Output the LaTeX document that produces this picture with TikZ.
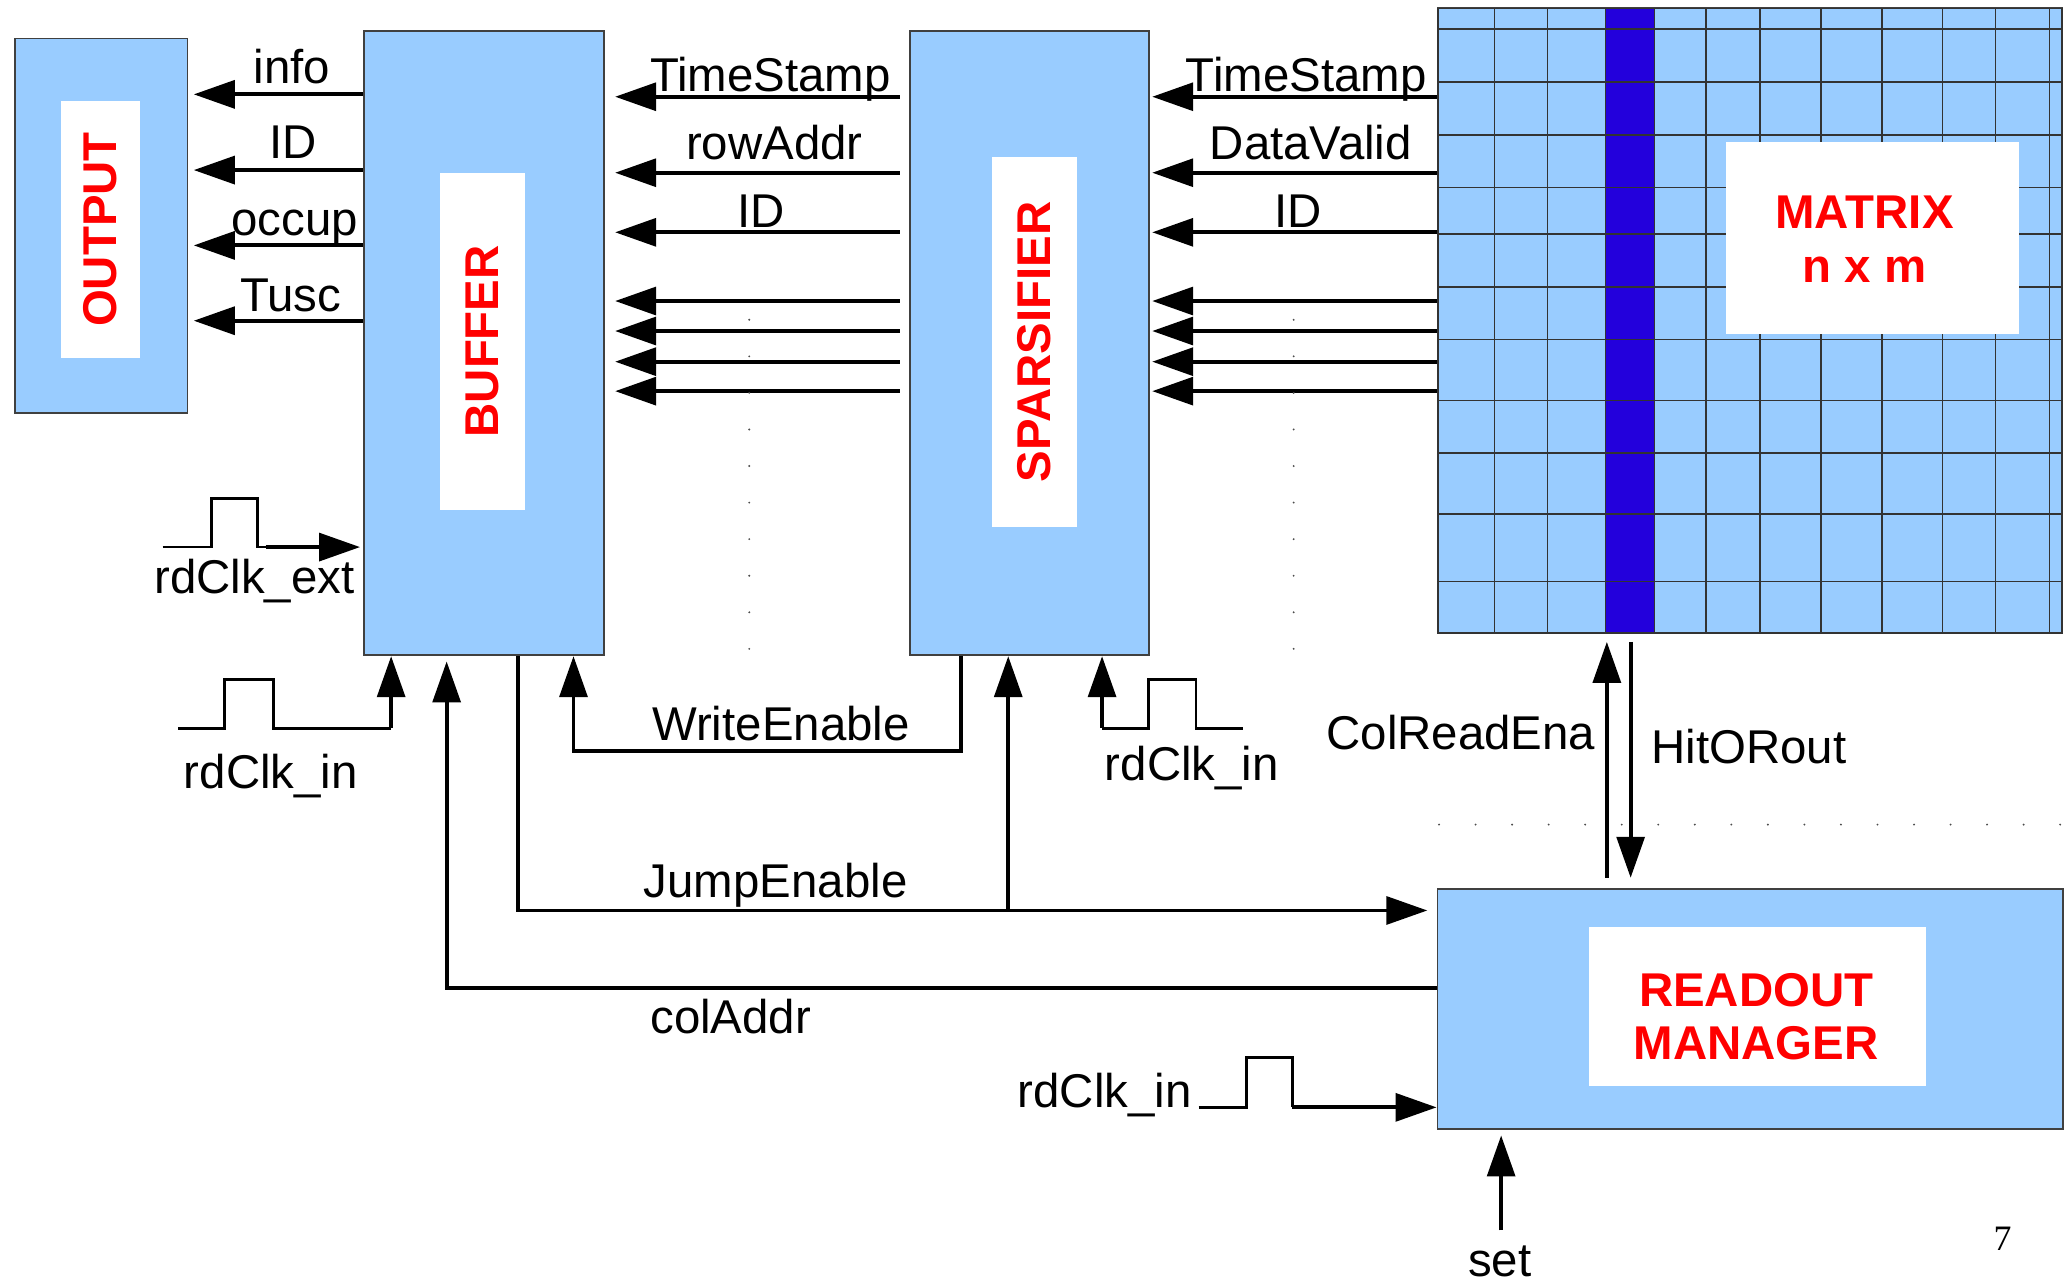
\documentclass[tikz,border=0pt]{standalone}
\usepackage{fontspec}
\setmainfont{Liberation Sans}
\newfontfamily\pagefont{Liberation Serif}
\usepackage{xcolor}
\usepackage{tikz}
\usetikzlibrary{arrows.meta, positioning}
\definecolor{pixblue}{RGB}{153, 204, 255}
\definecolor{colblue}{RGB}{35, 0, 220}

\begin{document}
\begin{tikzpicture}[x=0.01cm, y=-0.01cm,
  box/.style={rectangle, draw=black!75, line width=0.4pt, fill=pixblue, inner sep=0pt},
  core/.style={rectangle, fill=white, inner sep=0pt},
  tag/.style={font=\fontsize{10.2}{11.5}\selectfont\bfseries, text=red, inner sep=0pt, align=center},
  lbl/.style={font=\fontsize{10.2}{12}\selectfont, inner sep=0pt, anchor=base},
  arrow/.style={-{Triangle[length=3.1mm, width=2.1mm]}, line width=0.85pt, color=black},
  wire/.style={line width=0.6pt, color=black},
  grid line/.style={draw=black!80, line width=0.35pt}
]
  \useasboundingbox (0,0) rectangle (1568,972);

  \node[box, minimum width=13.04mm, minimum height=28.35mm] (output) at (76.7,171) {};
  \node[core, tag, rotate=90, minimum width=19.46mm, minimum height=6mm] (outputcore) at (76,173.7) {OUTPUT};
  \node[box, minimum width=18.15mm, minimum height=47.22mm] (buffer) at (366,259.6) {};
  \node[core, tag, rotate=90, minimum width=25.53mm, minimum height=6.4mm] (buffercore) at (365,258.3) {BUFFER};
  \node[box, minimum width=18.1mm, minimum height=47.22mm] (sparsifier) at (779.2,259.6) {};
  \node[core, tag, rotate=90, minimum width=28mm, minimum height=6.43mm] (sparsifiercore) at (782.6,258.6) {SPARSIFIER};

  \node[box, minimum width=47.26mm, minimum height=47.26mm] (pixmat) at (1324.3,242.6) {};
  \fill[colblue] (1215,6.3) rectangle (1252,478.9);
  \foreach \gx in {1131,1171,1215,1252,1291,1332,1378,1424,1470,1510,1551}
    \draw[grid line] (\gx,6.3) -- (\gx,478.9);
  \foreach \gy in {22,62,102,142,177,217,257,303,343,389,440}
    \draw[grid line] (1088,\gy) -- (1560.6,\gy);
  \draw[grid line] (1088,6.3) rectangle (1560.6,478.9);
  \node[core, minimum width=22.1mm, minimum height=14.53mm] (matrixcore) at (1417,180.4) {};
  \node[tag, anchor=base] (matrixtag) at (1411,213.5) {MATRIX\\n x m};

  \node[box, minimum width=47.3mm, minimum height=18.1mm] (readout) at (1324.5,763.5) {};
  \node[core, minimum width=25.47mm, minimum height=12.05mm] (readoutcore) at (1330,761.8) {};
  \node[tag, anchor=base] (readouttag) at (1329,802) {READOUT\\MANAGER};

  \draw[arrow, shorten >=0.4mm] (buffer.west |- 0,71.4) -- (output.east |- 0,71.4);
  \draw[arrow, shorten >=0.4mm] (buffer.west |- 0,128.7) -- (output.east |- 0,128.7);
  \draw[arrow, shorten >=0.4mm] (buffer.west |- 0,185.7) -- (output.east |- 0,185.7);
  \draw[arrow, shorten >=0.4mm] (buffer.west |- 0,242.7) -- (output.east |- 0,242.7);
  \node[lbl] (lblinfo) at (221,63) {info};
  \node[lbl] (lblidout) at (222,120) {ID};
  \node[lbl] (lbloccup) at (223,178) {occup};
  \node[lbl] (lbltusc) at (220,236) {Tusc};

  \draw[arrow, shorten <=0.7mm, shorten >=0.8mm] (sparsifier.west |- 0,73.2) -- (buffer.east |- 0,73.2);
  \draw[arrow, shorten <=0.7mm, shorten >=0.8mm] (sparsifier.west |- 0,130.7) -- (buffer.east |- 0,130.7);
  \draw[arrow, shorten <=0.7mm, shorten >=0.8mm] (sparsifier.west |- 0,175.8) -- (buffer.east |- 0,175.8);
  \draw[arrow, shorten <=0.7mm, shorten >=0.8mm] (sparsifier.west |- 0,227.8) -- (buffer.east |- 0,227.8);
  \draw[arrow, shorten <=0.7mm, shorten >=0.8mm] (sparsifier.west |- 0,250.5) -- (buffer.east |- 0,250.5);
  \draw[arrow, shorten <=0.7mm, shorten >=0.8mm] (sparsifier.west |- 0,273.7) -- (buffer.east |- 0,273.7);
  \draw[arrow, shorten <=0.7mm, shorten >=0.8mm] (sparsifier.west |- 0,296) -- (buffer.east |- 0,296);
  \node[lbl] (lbltsbuf) at (583,69.5) {TimeStamp};
  \node[lbl] (lblrow) at (586,121) {rowAddr};
  \node[lbl] (lblidbuf) at (576,172.5) {ID};

  \draw[arrow, shorten >=0.15mm] (pixmat.west |- 0,73.2) -- (sparsifier.east |- 0,73.2);
  \draw[arrow, shorten >=0.15mm] (pixmat.west |- 0,130.7) -- (sparsifier.east |- 0,130.7);
  \draw[arrow, shorten >=0.15mm] (pixmat.west |- 0,175.8) -- (sparsifier.east |- 0,175.8);
  \draw[arrow, shorten >=0.15mm] (pixmat.west |- 0,227.8) -- (sparsifier.east |- 0,227.8);
  \draw[arrow, shorten >=0.15mm] (pixmat.west |- 0,250.5) -- (sparsifier.east |- 0,250.5);
  \draw[arrow, shorten >=0.15mm] (pixmat.west |- 0,273.7) -- (sparsifier.east |- 0,273.7);
  \draw[arrow, shorten >=0.15mm] (pixmat.west |- 0,296) -- (sparsifier.east |- 0,296);
  \node[lbl] (lbltssp) at (988.5,69.5) {TimeStamp};
  \node[lbl] (lbldv) at (992,121) {DataValid};
  \node[lbl] (lblidsp) at (982.5,172.5) {ID};

  \foreach \dy in {0,...,9} {
    \fill[black!70] (567,242+27.67*\dy) circle[radius=0.08mm];
    \fill[black!70] (979,242+27.67*\dy) circle[radius=0.08mm];
  }
  \foreach \dx in {0,...,17}
    \fill[black!70] (1089+27.65*\dx,624) circle[radius=0.08mm];

  \coordinate (extclk) at (201,414);
  \draw[wire] (123,414) -- (160,414) -- (160,377) -- (195,377) -- (195,414) -- (extclk);
  \draw[arrow, shorten >=0.2mm] (extclk) -- (buffer.west |- extclk);
  \node[lbl] (lblext) at (192.6,449) {rdClk\_ext};

  \coordinate (bufclk) at (296,551);
  \draw[wire] (135,551) -- (170,551) -- (170,514) -- (207,514) -- (207,551) -- (bufclk);
  \draw[arrow] (bufclk) -- (buffer.south -| bufclk);
  \node[lbl] (lblbufclk) at (205,597) {rdClk\_in};

  \coordinate (wren) at (434,568);
  \draw[arrow] (sparsifier.south -| 727,0) |- (wren) -- (buffer.south -| wren);
  \node[lbl] (lblwe) at (591,560) {WriteEnable};

  \coordinate (jump) at (763,689);
  \draw[arrow, shorten >=0.7mm] (buffer.south -| 392,0) |- (readout.west |- jump);
  \draw[arrow] (jump) -- (sparsifier.south -| jump);
  \node[lbl] (lblje) at (587,679) {JumpEnable};

  \coordinate (coladdr) at (338,748);
  \draw[arrow, shorten >=0.4mm] (readout.west |- coladdr) -| (buffer.south -| coladdr);
  \node[lbl] (lblca) at (553,782) {colAddr};

  \coordinate (spclk) at (834,551);
  \draw[wire] (spclk) -- (869,551) -- (869,514) -- (905,514) -- (905,551) -- (941,551);
  \draw[arrow] (spclk) -- (sparsifier.south -| spclk);
  \node[lbl] (lblspclk) at (902,591) {rdClk\_in};

  \draw[arrow, shorten <=0.8mm, shorten >=0.6mm] (readout.north -| 1216,0) -- (pixmat.south -| 1216,0);
  \draw[arrow, shorten <=0.6mm, shorten >=0.8mm] (pixmat.south -| 1234,0) -- (readout.north -| 1234,0);
  \node[lbl, anchor=base east] (lblcre) at (1208,567) {ColReadEna};
  \node[lbl, anchor=base west] (lblhit) at (1249,578) {HitORout};

  \coordinate (rmclk) at (978,838);
  \draw[wire] (907,838) -- (943,838) -- (943,800) -- (978,800) -- (rmclk);
  \draw[arrow] (rmclk) -- (readout.west |- rmclk);
  \node[lbl] (lblrmclk) at (836,838) {rdClk\_in};

  \coordinate (setin) at (1136,931);
  \draw[arrow, shorten >=0.45mm] (setin) -- (readout.south -| setin);
  \node[lbl] (lblset) at (1135,966) {set};

  \node[font=\pagefont\fontsize{7.7}{9}\selectfont, inner sep=0pt, anchor=base] (pageno) at (1515.5,946) {7};
\end{tikzpicture}
\end{document}
